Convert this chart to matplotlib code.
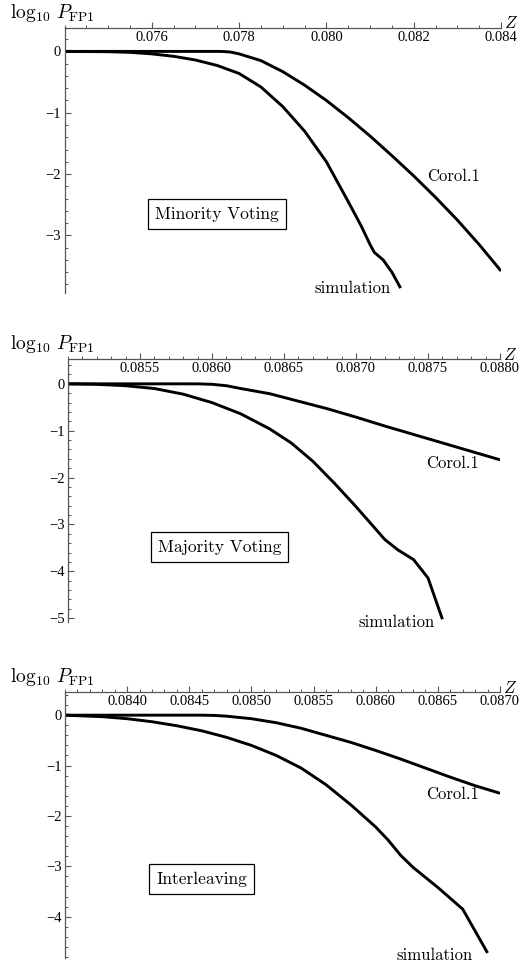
import matplotlib
matplotlib.use('Agg')

import matplotlib.pyplot as plt
from matplotlib.ticker import MultipleLocator, FormatStrFormatter, FixedLocator, FuncFormatter

plt.rcParams['font.family'] = 'Liberation Serif'
plt.rcParams['mathtext.fontset'] = 'cm'

# --- Minority voting ---
z_min_corol = [0.0740, 0.0776, 0.0778, 0.0780, 0.0785, 0.0790, 0.0795, 0.0800, 0.0805,
               0.0810, 0.0815, 0.0820, 0.0825, 0.0830, 0.0835, 0.0840]
lp_min_corol = [0.0, 0.0, -0.01, -0.04, -0.15, -0.33, -0.55, -0.80, -1.08,
                -1.38, -1.70, -2.03, -2.38, -2.75, -3.15, -3.58]
z_min_sim = [0.0740, 0.0750, 0.0755, 0.0760, 0.0765, 0.0770, 0.0775, 0.0780, 0.0785,
             0.0790, 0.0795, 0.0800, 0.0805, 0.0808, 0.0810, 0.0811, 0.0813, 0.0815, 0.0817]
lp_min_sim = [0.0, -0.005, -0.015, -0.04, -0.08, -0.14, -0.23, -0.36, -0.58,
              -0.90, -1.30, -1.80, -2.45, -2.85, -3.15, -3.28, -3.40, -3.60, -3.86]

# --- Majority voting ---
z_maj_corol = [0.0850, 0.0859, 0.0860, 0.0861, 0.0862, 0.0864, 0.0866, 0.0868, 0.0870,
               0.0872, 0.0874, 0.0876, 0.0878, 0.0880]
lp_maj_corol = [0.0, 0.0, -0.01, -0.04, -0.10, -0.21, -0.37, -0.53, -0.71,
                -0.90, -1.08, -1.26, -1.44, -1.62]
z_maj_sim = [0.0850, 0.0852, 0.0854, 0.0856, 0.0858, 0.0860, 0.0862, 0.0864, 0.08655,
             0.0867, 0.08685, 0.0870, 0.0872, 0.08729, 0.0874, 0.0875, 0.0876]
lp_maj_sim = [0.0, -0.01, -0.04, -0.10, -0.22, -0.40, -0.64, -0.96, -1.26,
              -1.65, -2.12, -2.62, -3.32, -3.54, -3.75, -4.14, -5.02]

# --- Interleaving ---
z_int_corol = [0.0835, 0.0846, 0.0847, 0.0848, 0.0850, 0.0852, 0.0854, 0.0856, 0.0858,
               0.0860, 0.0862, 0.0864, 0.0866, 0.0868, 0.0870]
lp_int_corol = [0.0, 0.0, -0.005, -0.02, -0.07, -0.15, -0.26, -0.40, -0.54,
                -0.70, -0.87, -1.05, -1.23, -1.40, -1.55]
z_int_sim = [0.0835, 0.0838, 0.0840, 0.0842, 0.0844, 0.0846, 0.0848, 0.0850, 0.0852,
             0.0854, 0.0856, 0.0858, 0.0860, 0.0861, 0.0862, 0.0863, 0.0865, 0.0867, 0.0869]
lp_int_sim = [0.0, -0.03, -0.07, -0.13, -0.21, -0.31, -0.44, -0.60, -0.80,
              -1.05, -1.38, -1.78, -2.22, -2.48, -2.78, -3.02, -3.42, -3.85, -4.72]

titles = ["Minority Voting", "Majority Voting", "Interleaving"]
xticks_min = [0.076, 0.078, 0.080, 0.082, 0.084]
xticks_maj = [0.0855, 0.0860, 0.0865, 0.0870, 0.0875, 0.0880]
xticks_int = [0.0840, 0.0845, 0.0850, 0.0855, 0.0860, 0.0865, 0.0870]

W, H = 527, 969
fig = plt.figure(figsize=(W / 100, H / 100), dpi=100)

panels = [
    dict(box=(64.5, 501, 27.5, 293), xlim=(0.074, 0.084), ylim=(-3.94, 0.39),
         ticks=xticks_min, fmt='%.3f', minor=0.0005,
         corol=(z_min_corol, lp_min_corol), sim=(z_min_sim, lp_min_sim),
         corol_lbl=(0.08291, -2.03), sim_lbl=(0.0806, -3.86), box_lbl=(0.07749, -2.65)),
    dict(box=(68, 500, 359, 622), xlim=(0.0850, 0.0880), ylim=(-5.08, 0.53),
         ticks=xticks_maj, fmt='%.4f', minor=0.0001,
         corol=(z_maj_corol, lp_maj_corol), sim=(z_maj_sim, lp_maj_sim),
         corol_lbl=(0.08767, -1.69), sim_lbl=(0.08728, -5.09), box_lbl=(0.08605, -3.48)),
    dict(box=(65, 500, 692, 958), xlim=(0.0835, 0.0870), ylim=(-4.82, 0.46),
         ticks=xticks_int, fmt='%.4f', minor=0.0001,
         corol=(z_int_corol, lp_int_corol), sim=(z_int_sim, lp_int_sim),
         corol_lbl=(0.08662, -1.58), sim_lbl=(0.08647, -4.76), box_lbl=(0.0846, -3.25)),
]

def yfmt(v, pos):
    v = int(round(v))
    return '\u2212%d' % -v if v < 0 else '%d' % v

axis_col = '#555555'
for p, title in zip(panels, titles):
    l, r, t, b = p['box']
    ax = fig.add_axes([l / W, 1 - b / H, (r - l) / W, (b - t) / H])
    ax.plot(*p['corol'], color='black', lw=2.1, solid_joinstyle='round', solid_capstyle='butt')
    ax.plot(*p['sim'], color='black', lw=2.1, solid_joinstyle='round', solid_capstyle='butt')
    ax.set_xlim(*p['xlim'])
    ax.set_ylim(*p['ylim'])

    for s in ['top', 'right']:
        ax.spines[s].set_visible(False)
    ax.spines['bottom'].set_position(('axes', 1.0))
    for s in ['bottom', 'left']:
        ax.spines[s].set_color(axis_col)
        ax.spines[s].set_linewidth(0.9)

    ax.xaxis.set_major_locator(FixedLocator(p['ticks']))
    ax.xaxis.set_major_formatter(FormatStrFormatter(p['fmt']))
    ax.xaxis.set_minor_locator(MultipleLocator(p['minor']))
    ax.yaxis.set_major_locator(MultipleLocator(1))
    ax.yaxis.set_minor_locator(MultipleLocator(0.2))
    ax.yaxis.set_major_formatter(FuncFormatter(yfmt))
    ax.tick_params(which='major', direction='in', length=4, width=0.8, color=axis_col,
                   labelsize=10.5, pad=2.5)
    ax.tick_params(which='minor', direction='in', length=2.2, width=0.7, color=axis_col)
    ax.patch.set_visible(False)

    ax.text(*p['corol_lbl'], 'Corol.1', family='cmr10', fontsize=12, ha='center', va='center')
    ax.text(*p['sim_lbl'], 'simulation', family='cmr10', fontsize=12, ha='center', va='center')
    ax.text(*p['box_lbl'], title, family='cmr10', fontsize=12.5, ha='center', va='center',
            bbox=dict(boxstyle='square,pad=0.4', fc='white', ec='black', lw=0.9))

    fig.text(10 / W, 1 - (t - 15) / H, r'$\log_{10}\,P_{\mathrm{FP1}}$', fontsize=14,
             ha='left', va='center')
    fig.text((r + 10) / W, 1 - (t - 3) / H, r'$Z$', fontsize=12, ha='center', va='center')

fig.savefig('out.png', dpi=100)
